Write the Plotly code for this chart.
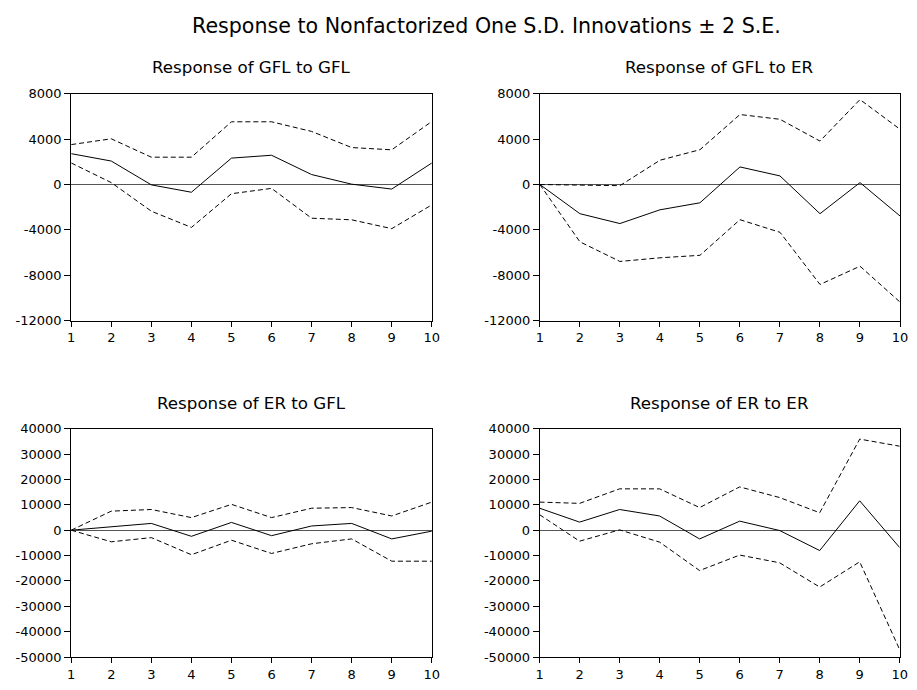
import plotly.graph_objects as go

periods = [1, 2, 3, 4, 5, 6, 7, 8, 9, 10]

gfl_gfl = [2720, 2070, -30, -680, 2330, 2580, 880, 30, -400, 1900]
gfl_gfl_up = [3520, 4030, 2410, 2410, 5530, 5530, 4680, 3260, 3060, 5560]
gfl_gfl_lo = [1900, 170, -2350, -3780, -810, -340, -2970, -3110, -3890, -1790]

gfl_er = [0, -2570, -3440, -2230, -1610, 1550, 760, -2570, 170, -2770]
gfl_er_up = [0, -60, -100, 2140, 3070, 6170, 5750, 3830, 7490, 4870]
gfl_er_lo = [0, -5050, -6780, -6460, -6240, -3100, -4210, -8810, -7200, -10360]

er_gfl = [0, 1400, 2670, -2420, 3060, -2160, 1660, 2670, -3440, -380]
er_gfl_up = [0, 7510, 8150, 4960, 10180, 4960, 8660, 8910, 5600, 11070]
er_gfl_lo = [0, -4580, -2930, -9670, -3950, -9170, -5350, -3440, -12220, -12220]

er_er = [8660, 3180, 8150, 5600, -3440, 3560, -130, -8020, 11580, -6870]
er_er_up = [11070, 10570, 16290, 16290, 8910, 17060, 12860, 6870, 35900, 33100]
er_er_lo = [6110, -4330, 130, -4710, -15910, -9800, -12860, -22400, -12470, -47100]

titles = ["Response of GFL to GFL", "Response of GFL to ER",
          "Response of ER to GFL", "Response of ER to ER"]
main_title = "Response to Nonfactorized One S.D. Innovations \u00b1 2 S.E."

top_ticks = [8000, 4000, 0, -4000, -8000, -12000]
bottom_ticks = [40000, 30000, 20000, 10000, 0, -10000, -20000, -30000, -40000, -50000]

panels = [
    (gfl_gfl, gfl_gfl_up, gfl_gfl_lo, "x", "y"),
    (gfl_er, gfl_er_up, gfl_er_lo, "x2", "y2"),
    (er_gfl, er_gfl_up, er_gfl_lo, "x3", "y3"),
    (er_er, er_er_up, er_er_lo, "x4", "y4"),
]

# the page keeps the browser's 8px body margin, so the figure is sized to fit the window
OFF = 8
W, H = 917 - 2 * OFF, 690 - 2 * OFF
FONT = "DejaVu Sans"


def fx(p):
    return (p - OFF) / W


def fy(p):
    return 1 - (p - OFF) / H


fig = go.Figure()
for center, up, lo, xa, ya in panels:
    for ys, dash in ((up, "5px,3px"), (lo, "5px,3px"), (center, "solid")):
        fig.add_trace(go.Scatter(x=periods, y=ys, mode="lines", xaxis=xa, yaxis=ya,
                                 line=dict(color="black", width=1, dash=dash),
                                 showlegend=False, hoverinfo="skip"))

# domains in window pixels
xdoms = [(68, 433.5), (543, 908), (68, 433.5), (542.7, 907.7)]
ydoms = [(89.3, 323.5), (89.3, 323.5), (435, 670.7), (435, 670.7)]

layout = dict(
    width=W, height=H, margin=dict(l=0, r=0, t=0, b=0),
    paper_bgcolor="white", plot_bgcolor="white",
    font=dict(family=FONT, color="black", size=12.5),
    showlegend=False,
)

for i in range(4):
    sx = "" if i == 0 else str(i + 1)
    x0, x1 = xdoms[i]
    y0, y1 = ydoms[i]
    top = i < 2
    ticks = top_ticks if top else bottom_ticks
    rng = [-12000, 8000] if top else [-50000, 40000]
    layout["xaxis" + sx] = dict(
        domain=[fx(x0), fx(x1)], range=[1, 10], anchor="y" + sx,
        tickmode="array", tickvals=periods, ticktext=[str(p) for p in periods],
        ticks="outside", ticklen=5, tickcolor="black", tickwidth=1,
        showline=True, linecolor="black", linewidth=1, mirror=True,
        showgrid=False, zeroline=False, fixedrange=True,
        tickfont=dict(family=FONT, size=13),
    )
    layout["yaxis" + sx] = dict(
        domain=[fy(y1), fy(y0)], range=rng, anchor="x" + sx,
        tickmode="array", tickvals=ticks, ticktext=[str(t) for t in ticks],
        ticks="outside", ticklen=6, tickcolor="black", tickwidth=1,
        showline=True, linecolor="black", linewidth=1, mirror=True,
        showgrid=False, zeroline=True, zerolinecolor="#555555", zerolinewidth=1,
        fixedrange=True, tickfont=dict(family=FONT, size=13),
    )

annotations = [dict(text=main_title, x=fx(488.5), y=fy(19), xref="paper", yref="paper",
                    xanchor="center", yanchor="middle", showarrow=False,
                    font=dict(family=FONT, size=20.6, color="black"))]
tpos = [(251, 62), (725, 62), (251, 408), (725, 408)]
for (tx, ty), t in zip(tpos, titles):
    annotations.append(dict(text=t, x=fx(tx), y=fy(ty), xref="paper", yref="paper",
                            xanchor="center", yanchor="middle", showarrow=False,
                            font=dict(family=FONT, size=16.7, color="black")))
layout["annotations"] = annotations

fig.update_layout(**layout)
fig.write_html("out.html", config={"displayModeBar": False})
